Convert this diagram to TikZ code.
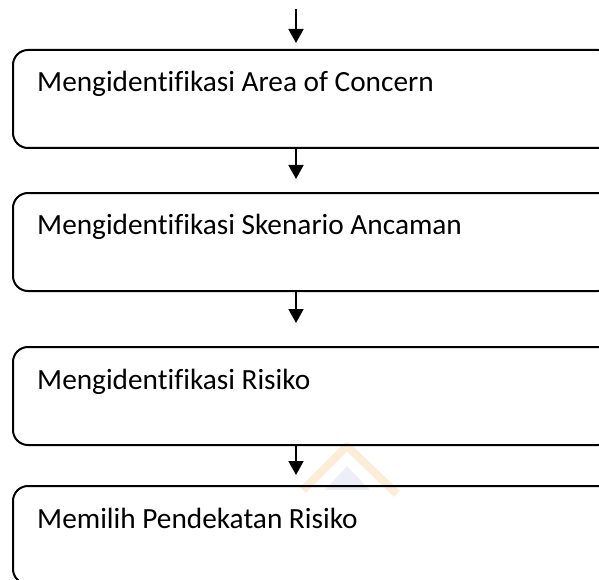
\documentclass[tikz,border=0pt]{standalone}
\usepackage{fontspec}
\setmainfont{Carlito}[Ligatures=NoCommon]
\usetikzlibrary{arrows.meta}
\definecolor{markorange}{RGB}{250,222,185}
\definecolor{markblue}{RGB}{215,218,240}
\begin{document}
\begin{tikzpicture}[x=1pt,y=-1pt,
  stepbox/.style={draw=black, line width=2pt, rounded corners=15pt,
    minimum width=600pt, minimum height=98pt, inner sep=0pt,
    anchor=north west},
  steptext/.style={anchor=base west, inner sep=0pt,
    font=\fontsize{29.3}{35}\selectfont},
  flow/.style={draw=black, line width=1.8pt,
    -{Triangle[length=14pt,width=15pt]}}]
  \clip (0,0) rectangle (599,580);
  % faint emblem behind the last steps
  \fill[markblue, opacity=0.45] (325,490) -- (347,466) -- (370,490) -- cycle;
  \draw[markorange, line width=8pt, opacity=0.55, line join=round]
    (303,490) -- (347,446) -- (397,494);
  % process steps
  \node[stepbox] (b1) at (12,49) {};
  \node[stepbox] (b2) at (12,192) {};
  \node[stepbox] (b3) at (12,346) {};
  \node[stepbox] (b4) at (12,485) {};
  \node[steptext] (t1) at (37,92) {Mengidentifikasi Area of Concern};
  \node[steptext] (t2) at (37,234) {Mengidentifikasi Skenario Ancaman};
  \node[steptext] (t3) at (37,389) {Mengidentifikasi Risiko};
  \node[steptext] (t4) at (37,528) {Memilih Pendekatan Risiko};
  % connectors
  \coordinate (start) at (296,9);
  \draw[flow, shorten >=6pt] (start) -- (start |- b1.north);
  \draw[flow, shorten >=13pt] (start |- b1.south) -- (start |- b2.north);
  \draw[flow, shorten >=23pt] (start |- b2.south) -- (start |- b3.north);
  \draw[flow, shorten >=10pt] (start |- b3.south) -- (start |- b4.north);
\end{tikzpicture}
\end{document}
